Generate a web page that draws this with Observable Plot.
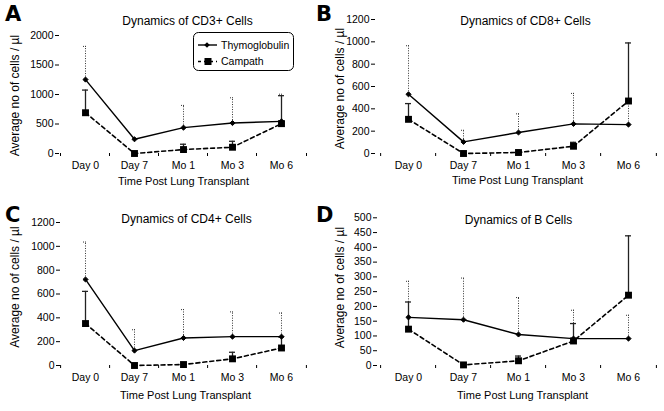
<!DOCTYPE html>
<html><head><meta charset="utf-8">
<script src="https://cdn.jsdelivr.net/npm/d3@7"></script>
<script src="https://cdn.jsdelivr.net/npm/@observablehq/plot@0.6"></script>
<style>
body{margin:0;background:#fff;}
#wrap{position:relative;width:664px;height:411px;overflow:hidden;background:#fff;font-family:"Liberation Sans",Arial,sans-serif;color:#000;}
.panel{position:absolute;}
.letter{position:absolute;font-family:"DejaVu Sans",sans-serif;font-weight:bold;font-size:21px;line-height:1;color:#000;}
#legend{position:absolute;left:193px;top:32px;}
</style></head><body><div id="wrap"></div>
<script>
// ---- data ----
const categories = ["Day 0", "Day 7", "Mo 1", "Mo 3", "Mo 6"];
const seriesNames = ["Thymoglobulin", "Campath"];
const panelLetters = ["A", "B", "C", "D"];
const panelTitles = ["Dynamics of CD3+ Cells", "Dynamics of CD8+ Cells", "Dynamics of CD4+ Cells", "Dynamics of B Cells"];
const yLabel = "Average no of cells / µl";
const xLabel = "Time Post Lung Transplant";

// CD3+
const cd3Thymo = [1253, 241, 438, 516, 545];
const cd3ThymoUp = [1815, null, 815, 944, 1005];
const cd3Camp = [691, 0, 67, 106, 506];
const cd3CampUp = [1075, null, 157, 207, 980];
const cd3Ticks = [0, 500, 1000, 1500, 2000];
// CD8+
const cd8Thymo = [530, 104, 188, 265, 259];
const cd8ThymoUp = [965, 208, 355, 538, 465];
const cd8Camp = [306, 0, 9, 65, 470];
const cd8CampUp = [447, null, null, 100, 990];
const cd8Ticks = [0, 200, 400, 600, 800, 1000, 1200];
// CD4+
const cd4Thymo = [722, 125, 231, 242, 242];
const cd4ThymoUp = [1036, 300, 469, 450, 440];
const cd4Camp = [352, 0, 8, 56, 147];
const cd4CampUp = [622, null, null, 111, 240];
const cd4Ticks = [0, 200, 400, 600, 800, 1000, 1200];
// B cells
const bThymo = [163, 155, 105, 91, 91];
const bThymoUp = [285, 296, 230, 187, 170];
const bCamp = [123, 2, 16, 83, 238];
const bCampUp = [215, null, 32, 142, 439];
const bTicks = [0, 50, 100, 150, 200, 250, 300, 350, 400, 450, 500];

// ---- layout (styles only) ----
const panels = [
  {left:0, top:0, h:205, ml:59, mr:28, mt:35, mb:52, pad:0.45, align:0.53, tdx:5.5, tdy:-19.3, xdx:1.5, xdy:31.5, ydx:-44, ydy:1,
   thymo:cd3Thymo, thymoUp:cd3ThymoUp, camp:cd3Camp, campUp:cd3CampUp, ticks:cd3Ticks},
  {left:332, top:0, h:205, ml:43, mr:17, mt:19, mb:52, pad:0.44, align:0.63, tdx:14, tdy:-3.3, xdx:6, xdy:30, ydx:-35, ydy:2,
   thymo:cd8Thymo, thymoUp:cd8ThymoUp, camp:cd8Camp, campUp:cd8CampUp, ticks:cd8Ticks},
  {left:0, top:205, h:206, ml:60, mr:24, mt:17, mb:46, pad:0.49, align:0.49, tdx:2, tdy:-7.7, xdx:1, xdy:33.5, ydx:-45, ydy:-7,
   thymo:cd4Thymo, thymoUp:cd4ThymoUp, camp:cd4Camp, campUp:cd4CampUp, ticks:cd4Ticks},
  {left:332, top:205, h:206, ml:45, mr:17, mt:12.3, mb:46, pad:0.42, align:0.62, tdx:6, tdy:-2.3, xdx:10, xdy:33.5, ydx:-37, ydy:-4,
   thymo:bThymo, thymoUp:bThymoUp, camp:bCamp, campUp:bCampUp, ticks:bTicks}
];
const letterPos = [[5,4],[316,4],[5,205],[316,205]];

const wrap = document.getElementById("wrap");
const W = 332;

panels.forEach((p, k) => {
  const n = categories.length;
  const step = (W - p.ml - p.mr) / (n - 1 + 2 * p.pad);
  const thymo = categories.map((c, i) => ({c, v: p.thymo[i], up: p.thymoUp[i]}));
  const camp = categories.map((c, i) => ({c, v: p.camp[i], up: p.campUp[i]}));
  const thymoErr = thymo.filter(d => d.up != null);
  const campErr = camp.filter(d => d.up != null);
  const ymax = p.ticks[p.ticks.length - 1];
  const chart = Plot.plot({
    width: W, height: p.h,
    marginLeft: p.ml, marginRight: p.mr, marginTop: p.mt, marginBottom: p.mb,
    style: {fontFamily: "'Liberation Sans', Arial, sans-serif", fontSize: "10.5px", color: "#000", background: "transparent"},
    x: {type: "point", domain: categories, padding: p.pad, align: p.align},
    y: {domain: [0, ymax]},
    marks: [
      Plot.axisY(p.ticks, {tickSize: 4, tickPadding: 2, line: true, label: null, fontSize: 10.5, tickFormat: d => String(d)}),
      Plot.axisX(categories, {tickSize: 0, tickPadding: 8, line: true, label: null, fontSize: 10.5, fontFamily: "'Liberation Sans Narrow', 'Liberation Sans', sans-serif"}),
      Plot.ruleX(categories, {x: d => d, y1: () => 0, y2: () => 0, insetBottom: -3, dx: -step / 2, stroke: "#000"}),
      Plot.ruleX([categories[n - 1]], {x: d => d, y1: () => 0, y2: () => 0, insetBottom: -3, dx: step / 2, stroke: "#000"}),
      // error bars
      Plot.ruleX(thymoErr, {x: "c", y1: "v", y2: "up", stroke: "#333", strokeWidth: 1, strokeDasharray: "1,1.5"}),
      Plot.ruleY(thymoErr, {x1: "c", x2: "c", y: "up", insetLeft: -2, insetRight: -2, stroke: "#333", strokeWidth: 1, strokeDasharray: "1,1"}),
      Plot.ruleX(campErr, {x: "c", y1: "v", y2: "up", stroke: "#222", strokeWidth: 1.3}),
      Plot.ruleY(campErr, {x1: "c", x2: "c", y: "up", insetLeft: -3, insetRight: -3, stroke: "#222", strokeWidth: 1.3}),
      // lines
      Plot.line(thymo, {x: "c", y: "v", stroke: "#000", strokeWidth: 1.4}),
      Plot.line(camp, {x: "c", y: "v", stroke: "#000", strokeWidth: 1.6, strokeDasharray: "4,3"}),
      Plot.dot(thymo, {x: "c", y: "v", symbol: "diamond2", r: 2.3, fill: "#000", stroke: "#000", strokeWidth: 1}),
      Plot.dot(camp, {x: "c", y: "v", symbol: "square", r: 3.9, fill: "#000", stroke: "none"}),
      // texts
      Plot.text([panelTitles[k]], {text: d => d, frameAnchor: "top", dx: p.tdx, dy: p.tdy, fontSize: 12, fill: "#000"}),
      Plot.text([xLabel], {text: d => d, frameAnchor: "bottom", dx: p.xdx, dy: p.xdy, fontSize: 11, fill: "#000", fontFamily: "'Liberation Sans Narrow', 'Liberation Sans', sans-serif"}),
      Plot.text([yLabel], {text: d => d, frameAnchor: "left", textAnchor: "middle", rotate: -90, dx: p.ydx, dy: p.ydy, fontSize: 12, fill: "#000"})
    ]
  });
  const div = document.createElement("div");
  div.className = "panel";
  div.style.left = p.left + "px";
  div.style.top = p.top + "px";
  div.appendChild(chart);
  wrap.appendChild(div);
});

// legend (panel A)
const legend = document.createElement("div");
legend.id = "legend";
legend.innerHTML = `<svg width="101" height="39" xmlns="http://www.w3.org/2000/svg" style="display:block">
<rect x="0.5" y="0.5" width="100" height="38" rx="5" fill="#fff" stroke="#000" stroke-width="1"/>
<line x1="5" x2="24" y1="13" y2="13" stroke="#000" stroke-width="1.4"/>
<path d="M14,10.2 L16.8,13 L14,15.8 L11.2,13 Z" fill="#000"/>
<line x1="5" x2="24" y1="29.5" y2="29.5" stroke="#000" stroke-width="1.6" stroke-dasharray="3,3"/>
<rect x="11.5" y="26" width="7" height="7" fill="#000"/>
<text x="28" y="16.5" font-family="'Liberation Sans', Arial, sans-serif" font-size="10.5">${seriesNames[0]}</text>
<text x="28" y="33" font-family="'Liberation Sans', Arial, sans-serif" font-size="10.5">${seriesNames[1]}</text>
</svg>`;
wrap.appendChild(legend);

panelLetters.forEach((L, i) => {
  const d = document.createElement("div");
  d.className = "letter";
  d.textContent = L;
  d.style.left = letterPos[i][0] + "px";
  d.style.top = letterPos[i][1] + "px";
  wrap.appendChild(d);
});
</script>
</body></html>
